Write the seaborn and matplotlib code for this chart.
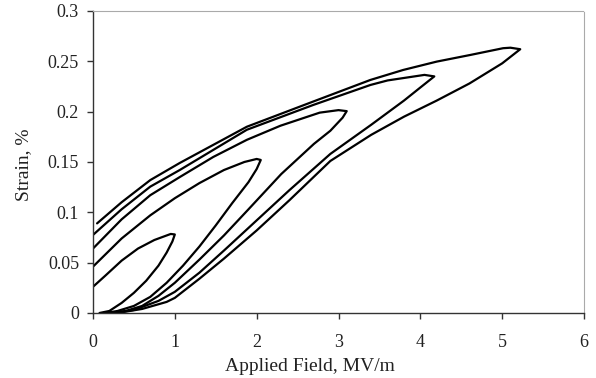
import matplotlib
matplotlib.use("Agg")
import matplotlib.pyplot as plt
import seaborn as sns
import pandas as pd

# ---- data ----
# Loop 1 (max field ~1 MV/m)
l1_up_E = [0.08, 0.2, 0.35, 0.5, 0.65, 0.8, 0.9, 0.97, 1.0]
l1_up_S = [0.0, 0.002, 0.010, 0.020, 0.032, 0.047, 0.060, 0.071, 0.078]
l1_dn_E = [0.95, 0.9, 0.75, 0.55, 0.35, 0.15, 0.0]
l1_dn_S = [0.0785, 0.077, 0.0725, 0.064, 0.052, 0.037, 0.026]

# Loop 2 (max field ~2 MV/m)
l2_up_E = [0.15, 0.3, 0.5, 0.7, 0.9, 1.1, 1.3, 1.5, 1.7, 1.9, 2.0, 2.05]
l2_up_S = [0.0, 0.002, 0.007, 0.016, 0.030, 0.047, 0.066, 0.087, 0.109, 0.130, 0.143, 0.152]
l2_dn_E = [2.0, 1.85, 1.6, 1.3, 1.0, 0.7, 0.35, 0.0]
l2_dn_S = [0.153, 0.150, 0.142, 0.129, 0.114, 0.097, 0.074, 0.046]

# Loop 3 (max field ~3.1 MV/m)
l3_up_E = [0.2, 0.4, 0.6, 0.8, 1.0, 1.3, 1.6, 1.9, 2.3, 2.7, 2.9, 3.05, 3.1]
l3_up_S = [0.0, 0.002, 0.007, 0.017, 0.030, 0.053, 0.077, 0.103, 0.138, 0.168, 0.181, 0.194, 0.2005]
l3_dn_E = [3.0, 2.77, 2.29, 1.88, 1.47, 1.06, 0.7, 0.35, 0.0]
l3_dn_S = [0.2015, 0.199, 0.186, 0.172, 0.155, 0.135, 0.117, 0.093, 0.064]

# Loop 4 (max field ~4.2 MV/m)
l4_up_E = [0.25, 0.5, 0.8, 1.0, 1.3, 1.6, 2.0, 2.4, 2.9, 3.4, 3.8, 4.0, 4.17]
l4_up_S = [0.0, 0.003, 0.012, 0.021, 0.040, 0.062, 0.092, 0.122, 0.158, 0.187, 0.211, 0.224, 0.235]
l4_dn_E = [4.05, 3.6, 3.39, 2.69, 1.88, 1.06, 0.7, 0.35, 0.0]
l4_dn_S = [0.2365, 0.231, 0.2265, 0.2066, 0.182, 0.142, 0.1255, 0.103, 0.0775]

# Loop 5 (max field ~5.2 MV/m)
l5_up_E = [0.3, 0.6, 0.9, 1.0, 1.3, 1.6, 2.0, 2.4, 2.9, 3.4, 3.8, 4.2, 4.6, 5.0, 5.22]
l5_up_S = [0.0, 0.004, 0.011, 0.015, 0.034, 0.054, 0.082, 0.112, 0.151, 0.177, 0.195, 0.211, 0.228, 0.248, 0.262]
l5_dn_E = [5.1, 5.01, 4.61, 4.2, 3.79, 3.39, 2.69, 1.88, 1.06, 0.7, 0.35, 0.05]
l5_dn_S = [0.2635, 0.263, 0.2563, 0.2497, 0.2414, 0.2315, 0.210, 0.185, 0.149, 0.132, 0.110, 0.089]

x_ticks = [0, 1, 2, 3, 4, 5, 6]
y_ticks = [0, 0.05, 0.1, 0.15, 0.2, 0.25, 0.3]
y_tick_labels = ["0", "0.05", "0.1", "0.15", "0.2", "0.25", "0.3"]

loops = [
    (l1_up_E + l1_dn_E, l1_up_S + l1_dn_S),
    (l2_up_E + l2_dn_E, l2_up_S + l2_dn_S),
    (l3_up_E + l3_dn_E, l3_up_S + l3_dn_S),
    (l4_up_E + l4_dn_E, l4_up_S + l4_dn_S),
    (l5_up_E + l5_dn_E, l5_up_S + l5_dn_S),
]
frames = []
for i, (e, s) in enumerate(loops):
    frames.append(pd.DataFrame({"E": e, "S": s, "loop": i}))
df = pd.concat(frames, ignore_index=True)

sns.set_theme(style="white")
plt.rcParams["font.family"] = ["Liberation Serif", "DejaVu Serif"]

fig = plt.figure(figsize=(5.96, 3.78), dpi=100)
ax = fig.add_axes([0.156, 0.172, 0.824, 0.799])

sns.lineplot(data=df, x="E", y="S", units="loop", estimator=None, sort=False,
             color="black", linewidth=1.6, ax=ax, legend=False)

ax.set_xlim(0, 6)
ax.set_ylim(0, 0.3)
ax.set_xticks(x_ticks)
ax.set_xticklabels([str(t) for t in x_ticks])
ax.set_yticks(y_ticks)
ax.set_yticklabels(y_tick_labels)
ax.tick_params(axis="both", which="major", direction="out", length=4, width=1,
               color="#333333", labelsize=13, labelcolor="#222222",
               bottom=True, left=True)
ax.tick_params(axis="x", pad=11)
ax.tick_params(axis="y", pad=6)
ax.set_xlabel("Applied Field, MV/m", fontsize=14, color="#222222")
ax.set_ylabel("Strain, %", fontsize=14, color="#222222")
ax.xaxis.set_label_coords(0.442, -0.15)
ax.yaxis.set_label_coords(-0.124, 0.49)

for side in ["left", "bottom"]:
    ax.spines[side].set_color("#333333")
    ax.spines[side].set_linewidth(1.0)
for side in ["top", "right"]:
    ax.spines[side].set_color("#aaaaaa")
    ax.spines[side].set_linestyle((0, (1, 1)))
    ax.spines[side].set_linewidth(0.8)

fig.savefig("out.png", dpi=100)
